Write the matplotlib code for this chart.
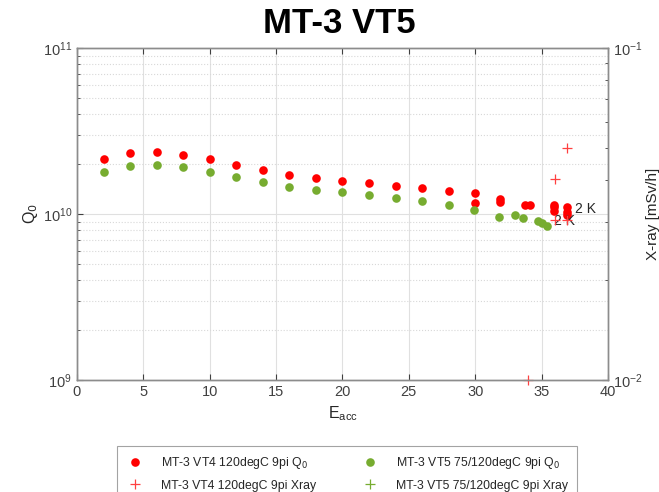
import matplotlib
matplotlib.use("Agg")
import matplotlib.pyplot as plt
from matplotlib.lines import Line2D
from matplotlib.ticker import LogLocator, NullFormatter

plt.rcParams['font.family'] = ['Liberation Sans', 'DejaVu Sans']

# MT-3 VT4 120degC 9pi  (red)
vt4_eacc = [2, 4, 6, 8, 10, 12, 14, 16, 18, 20, 22, 24, 26, 28,
            30, 30, 31.9, 31.9, 33.75, 34.1, 35.9, 35.9, 35.9, 36.9, 36.9, 36.9]
vt4_q0 = [2.14e10, 2.34e10, 2.35e10, 2.27e10, 2.14e10, 1.98e10, 1.84e10, 1.72e10,
          1.64e10, 1.58e10, 1.53e10, 1.48e10, 1.43e10, 1.37e10,
          1.33e10, 1.17e10, 1.24e10, 1.18e10, 1.14e10, 1.14e10, 1.14e10, 1.10e10, 1.05e10,
          1.10e10, 1.03e10, 0.99e10]
vt4_xray_eacc = [34.0, 36.0, 36.0, 36.9, 36.9]
vt4_xray = [0.0100, 0.0402, 0.0303, 0.0500, 0.0303]

# MT-3 VT5 75/120degC 9pi  (green)
vt5_eacc = [2, 4, 6, 8, 10, 12, 14, 16, 18, 20, 22, 24, 26, 28,
            29.9, 31.8, 33.0, 33.6, 34.7, 35.0, 35.4]
vt5_q0 = [1.79e10, 1.94e10, 1.97e10, 1.91e10, 1.79e10, 1.66e10, 1.56e10, 1.46e10,
          1.40e10, 1.35e10, 1.30e10, 1.25e10, 1.19e10, 1.13e10,
          1.06e10, 0.96e10, 0.985e10, 0.94e10, 0.906e10, 0.877e10, 0.844e10]
vt5_xray_eacc = []
vt5_xray = []

labels = ['MT-3 VT4 120degC 9pi Q$_0$', 'MT-3 VT4 120degC 9pi Xray',
          'MT-3 VT5 75/120degC 9pi Q$_0$', 'MT-3 VT5 75/120degC 9pi Xray']

red = '#ff0000'
xred = '#ff4040'
green = '#77ac30'
grey = '#404040'

fig = plt.figure(figsize=(6.59, 4.92), dpi=100)
ax = fig.add_axes([0.1168, 0.2276, 0.8058, 0.6748])
ax2 = ax.twinx()

ax.plot(vt4_eacc, vt4_q0, 'o', color=red, ms=6.2, mec='none', zorder=3)
ax.plot(vt5_eacc, vt5_q0, 'o', color=green, ms=6.2, mec='none', zorder=3)
ax2.set_yscale('log')
ax2.set_ylim(1e-2, 1e-1)
ax2.plot(vt4_xray_eacc, vt4_xray, '+', color=xred, ms=7, mew=0.9, clip_on=False)
ax2.plot(vt5_xray_eacc, vt5_xray, '+', color=green, ms=7, mew=0.9)

ax.set_xlim(0, 40)
ax.set_yscale('log')
ax.set_ylim(1e9, 1e11)

ax.text(37.5, 1.07e10, '2 K', fontsize=10, color='#262626', va='center', ha='left', zorder=4)
ax.text(35.9, 0.906e10, '2 K', fontsize=10, color='#262626', va='center', ha='left', zorder=4)

ax.set_xticks([0, 5, 10, 15, 20, 25, 30, 35, 40])
ax.yaxis.set_minor_locator(LogLocator(base=10, subs=range(2, 10)))
ax.yaxis.set_minor_formatter(NullFormatter())
ax2.yaxis.set_minor_locator(LogLocator(base=10, subs=range(2, 10)))
ax2.yaxis.set_minor_formatter(NullFormatter())

ax.grid(True, which='major', color='#e0e0e0', lw=0.8, ls='-')
ax.grid(True, which='minor', axis='y', color='#d8d8d8', lw=0.8, ls=':')
ax.set_axisbelow(True)

for a in (ax, ax2):
    a.tick_params(which='both', direction='in', colors=grey, labelsize=10.5)
    a.tick_params(which='major', length=4)
    a.tick_params(which='minor', length=2)
    for s in a.spines.values():
        s.set_color('#8c8c8c')
        s.set_linewidth(1.0)
ax.tick_params(axis='x', top=True)
ax.tick_params(axis='y', which='both', right=False)

ax.set_xlabel('E$_{\\mathregular{acc}}$', fontsize=11.5, color='#262626', labelpad=4)
ax.set_ylabel('Q$_0$', fontsize=11.5, color='#262626', labelpad=2)
ax2.set_ylabel('X-ray [mSv/h]', fontsize=11, color='#262626', rotation=90, va='center')
ax2.yaxis.set_label_coords(1.085, 0.5)

fig.text(0.515, 0.952, 'MT-3 VT5', fontsize=25, fontweight='bold', ha='center', va='center')

handles = [Line2D([], [], ls='none', marker='o', color=red, ms=6.2, mec='none'),
           Line2D([], [], ls='none', marker='+', color=xred, ms=7, mew=0.9),
           Line2D([], [], ls='none', marker='o', color=green, ms=6.2, mec='none'),
           Line2D([], [], ls='none', marker='+', color=green, ms=7, mew=0.9)]
leg = fig.legend(handles, labels, loc='upper center', bbox_to_anchor=(0.5265, 1 - 446 / 492),
                 ncol=2, fontsize=8.8, frameon=True, fancybox=False, edgecolor='#8c8c8c',
                 borderpad=0.75, handletextpad=1.4, columnspacing=3.6, labelspacing=0.7,
                 handlelength=1.5, borderaxespad=0)
leg.get_frame().set_linewidth(0.8)
for t in leg.get_texts():
    t.set_color('#262626')

fig.savefig('out.png', dpi=100)
